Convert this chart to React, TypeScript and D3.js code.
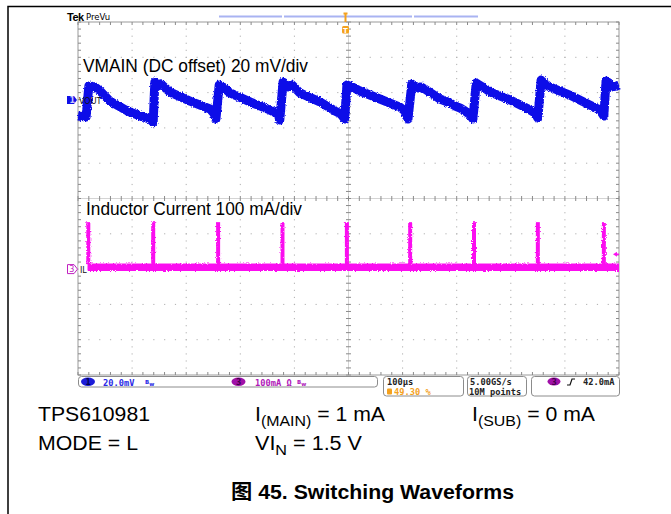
import React, { useEffect, useRef } from 'react';
import * as d3 from 'd3';

// horizontal: 100 us/div, 10 divisions, trigger at centre
const timeTicks = [-500, -400, -300, -200, -100, 0, 100, 200, 300, 400, 500];
const divTicks = [-5, -4, -3, -2, -1, 0, 1, 2, 3, 4, 5];

// CH1 VOUT (AC ripple, 20 mV/div) - corners of the sawtooth
const voutTime = [
  -500, -485, -480, -469, -459, -441, -409, -380, -367, -361,
  -358, -352, -347, -330, -293, -256, -249, -245,
  -239, -234, -219, -182, -145, -130, -127,
  -121, -112, -104, -90, -53, -25, -14, -7,
  -3, 7, 21, 58, 95, 104, 110,
  117, 129, 134, 141, 169, 188, 197, 206, 215, 225, 230,
  236, 245, 262, 299, 336, 345, 350,
  356, 363, 372, 409, 446, 465, 472,
  476, 482, 487, 495, 500,
];
const voutMv = [
  -9.1, -9.6, 7.9, 7.4, 5.1, -0.6, -6.2, -9.6, -10.8, -12.5,
  10.2, 7.9, 9.1, 4.5, -0.6, -5.1, -7.4, -10.8,
  8.5, 7.9, 4.0, -1.1, -5.7, -7.9, -11.3,
  10.2, 7.4, 8.5, 4.0, -1.1, -6.2, -7.9, -10.8,
  8.5, 7.4, 5.1, 0.6, -4.0, -6.2, -10.8,
  9.1, 6.8, 7.4, 6.2, 0.6, -1.7, -3.4, -4.5, -6.2, -8.5, -10.8,
  9.6, 7.9, 4.5, 0, -5.7, -7.4, -10.2,
  11.3, 9.1, 7.4, 2.8, -2.8, -5.7, -9.1,
  10.8, 9.6, 7.4, 7.9, 8.5,
];

// CH3 inductor current (100 mA/div) - switching pulses
const spikeTime = [-481, -361, -241, -122, -3, 114, 232, 350, 472];
const spikePeakMa = [133, 133, 133, 133, 133, 133, 133, 133, 133];
const ilBaseMa = 5;
const ilStart = -484;
const trigLevelMa = 42;

// channel positions (divisions above centre)
const ch1Pos = 2.79;
const ch3Pos = -2.0;
const ch1Scale = 20;
const ch3Scale = 100;

const BLUE = '#0f0fe8';
const PINK = '#fb10f0';
const ORANGE = '#f4a11e';
const GRID = '#b0b0b0';

const App: React.FC = () => {
  const ref = useRef<SVGSVGElement>(null);

  useEffect(() => {
    const svg = d3.select(ref.current);
    svg.selectAll('*').remove();

    const left = 78, right = 619, top = 22, bottom = 375;
    const x = d3.scaleLinear().domain([-500, 500]).range([left, right]);
    const yDiv = d3.scaleLinear().domain([-5, 5]).range([bottom, top]);
    const y1 = (v: number) => yDiv(ch1Pos + v / ch1Scale);
    const y3 = (i: number) => yDiv(ch3Pos + i / ch3Scale);

    const defs = svg.append('defs');
    const f = defs.append('filter').attr('id', 'rough')
      .attr('x', '-5%').attr('y', '-30%').attr('width', '110%').attr('height', '160%');
    f.append('feTurbulence').attr('type', 'fractalNoise').attr('baseFrequency', 0.8)
      .attr('numOctaves', 1).attr('seed', 4).attr('result', 'n');
    f.append('feDisplacementMap').attr('in', 'SourceGraphic').attr('in2', 'n')
      .attr('scale', 3.5).attr('xChannelSelector', 'R').attr('yChannelSelector', 'G');

    // page frame
    svg.append('path').attr('d', 'M8,514 L8,6.5 L671,6.5')
      .attr('fill', 'none').attr('stroke', '#000').attr('stroke-width', 1.5);

    // minor positions
    const minorT = d3.range(-25, 26).map(k => k * 20);
    const minorD = d3.range(-25, 26).map(k => k * 0.2);

    const grid = svg.append('g');
    // dotted vertical gridlines
    timeTicks.filter(t => t !== 0 && Math.abs(t) !== 500).forEach(t => {
      grid.selectAll(null).data(minorD.slice(1, -1)).enter().append('rect')
        .attr('x', x(t) - 0.5).attr('y', d => yDiv(d) - 0.5)
        .attr('width', 1).attr('height', 1.2).attr('fill', GRID);
    });
    // dotted horizontal gridlines
    divTicks.filter(d => d !== 0 && Math.abs(d) !== 5).forEach(d => {
      grid.selectAll(null).data(minorT.slice(1, -1)).enter().append('rect')
        .attr('x', t => x(t) - 0.5).attr('y', yDiv(d) - 0.5)
        .attr('width', 1.2).attr('height', 1).attr('fill', GRID);
    });
    // centre crosshair
    grid.append('line').attr('x1', x(0)).attr('x2', x(0)).attr('y1', top).attr('y2', bottom)
      .attr('stroke', '#d4d4d4').attr('stroke-width', 1);
    grid.append('line').attr('x1', left).attr('x2', right).attr('y1', yDiv(0)).attr('y2', yDiv(0))
      .attr('stroke', '#d4d4d4').attr('stroke-width', 1);
    grid.selectAll(null).data(minorD).enter().append('line')
      .attr('x1', x(0) - 2.5).attr('x2', x(0) + 2.5)
      .attr('y1', d => yDiv(d)).attr('y2', d => yDiv(d))
      .attr('stroke', '#8a8a8a').attr('stroke-width', 1);
    grid.selectAll(null).data(minorT).enter().append('line')
      .attr('y1', yDiv(0) - 2.5).attr('y2', yDiv(0) + 2.5)
      .attr('x1', t => x(t)).attr('x2', t => x(t))
      .attr('stroke', '#8a8a8a').attr('stroke-width', 1);
    // border with inward ticks
    grid.append('rect').attr('x', left).attr('y', top)
      .attr('width', right - left).attr('height', bottom - top)
      .attr('fill', 'none').attr('stroke', '#9a9a9a').attr('stroke-width', 1);
    [left, right].forEach((ex, k) => {
      grid.selectAll(null).data(minorD).enter().append('line')
        .attr('x1', ex).attr('x2', ex + (k === 0 ? 3 : -3))
        .attr('y1', d => yDiv(d)).attr('y2', d => yDiv(d))
        .attr('stroke', '#8a8a8a');
    });
    [top, bottom].forEach((ey, k) => {
      grid.selectAll(null).data(minorT).enter().append('line')
        .attr('y1', ey).attr('y2', ey + (k === 0 ? 3 : -3))
        .attr('x1', t => x(t)).attr('x2', t => x(t))
        .attr('stroke', '#8a8a8a');
    });

    // channel captions
    svg.append('text').attr('x', 83).attr('y', 72)
      .style('font-family', 'Liberation Sans, Arial, sans-serif').style('font-size', '19px')
      .attr('textLength', 225).attr('lengthAdjust', 'spacingAndGlyphs')
      .text('VMAIN (DC offset) 20 mV/div');
    svg.append('text').attr('x', 86).attr('y', 214.5)
      .style('font-family', 'Liberation Sans, Arial, sans-serif').style('font-size', '19px')
      .attr('textLength', 216).attr('lengthAdjust', 'spacingAndGlyphs')
      .text('Inductor Current 100 mA/div');

    // CH3 trace
    const il = svg.append('g').attr('filter', 'url(#rough)');
    il.append('line').attr('x1', x(ilStart)).attr('x2', x(500))
      .attr('y1', y3(ilBaseMa)).attr('y2', y3(ilBaseMa))
      .attr('stroke', PINK).attr('stroke-width', 7.5);
    il.selectAll(null).data(spikeTime).enter().append('line')
      .attr('x1', d => x(d)).attr('x2', d => x(d))
      .attr('y1', y3(ilBaseMa) + 3).attr('y2', (_, i) => y3(spikePeakMa[i]))
      .attr('stroke', PINK).attr('stroke-width', 4);

    // CH1 trace
    const line = d3.line<number>()
      .x((_, i) => x(voutTime[i]))
      .y(d => y1(d));
    svg.append('path').datum(voutMv).attr('d', line)
      .attr('fill', 'none').attr('stroke', BLUE).attr('stroke-width', 9)
      .attr('stroke-linejoin', 'round').attr('filter', 'url(#rough)');

    // channel ground markers
    const m1 = y1(0);
    svg.append('path')
      .attr('d', `M67,${m1 - 4} L74,${m1 - 4} L77,${m1} L74,${m1 + 4} L67,${m1 + 4} Z`)
      .attr('fill', BLUE);
    svg.append('text').attr('x', 69.5).attr('y', m1 + 3).text('1')
      .style('font-family', 'DejaVu Sans, sans-serif').style('font-size', '8px')
      .style('font-weight', 'bold').attr('fill', '#c8c8ff');
    svg.append('text').attr('x', 79).attr('y', m1 + 3.5).text('VOUT')
      .style('font-family', 'DejaVu Sans, sans-serif').style('font-size', '8px').attr('fill', '#111');
    const m3 = y3(0);
    svg.append('rect').attr('x', 78.5).attr('y', m3 - 5).attr('width', 9).attr('height', 9).attr('fill', '#fff');
    svg.append('path')
      .attr('d', `M67.5,${m3 - 4.5} L74,${m3 - 4.5} L77.5,${m3} L74,${m3 + 4.5} L67.5,${m3 + 4.5} Z`)
      .attr('fill', '#fff').attr('stroke', '#c020c0').attr('stroke-width', 1);
    svg.append('text').attr('x', 69.2).attr('y', m3 + 3).text('3')
      .style('font-family', 'DejaVu Sans, sans-serif').style('font-size', '8px').attr('fill', '#c020c0');
    svg.append('text').attr('x', 80).attr('y', m3 + 3.5).text('IL')
      .style('font-family', 'DejaVu Sans, sans-serif').style('font-size', '8px').attr('fill', '#111');

    // trigger level marker
    const tl = y3(trigLevelMa);
    svg.append('path').attr('d', `M613,${tl} L617,${tl - 2.5} L617,${tl + 2.5} Z`).attr('fill', PINK);
    svg.append('line').attr('x1', 616).attr('x2', 619).attr('y1', tl).attr('y2', tl)
      .attr('stroke', PINK).attr('stroke-width', 1.5);

    // header
    svg.append('text').attr('x', 67).attr('y', 21).text('Tek')
      .style('font-family', 'Liberation Sans, Arial, sans-serif').style('font-size', '11px')
      .style('font-weight', 'bold').style('letter-spacing', '-0.5px');
    svg.append('text').attr('x', 86).attr('y', 20).text('PreVu')
      .style('font-family', 'DejaVu Sans, sans-serif').style('font-size', '8.5px');
    [[219, 282], [284, 412], [414, 478]].forEach(([a, b]) => {
      svg.append('rect').attr('x', a).attr('y', 15.5).attr('width', b - a).attr('height', 2)
        .attr('fill', '#a9b3f2');
    });
    // trigger position marker
    const tx = x(0) - 3;
    svg.append('path').attr('d', `M${tx},13 L${tx},22 M${tx - 2},13.5 L${tx + 2},13.5`)
      .attr('stroke', ORANGE).attr('stroke-width', 2).attr('fill', 'none');
    svg.append('rect').attr('x', tx - 3.5).attr('y', 26).attr('width', 7).attr('height', 7.5)
      .attr('rx', 1.5).attr('fill', ORANGE);
    svg.append('text').attr('x', tx).attr('y', 32.5).attr('text-anchor', 'middle').text('T')
      .style('font-family', 'DejaVu Sans, sans-serif').style('font-size', '7px')
      .style('font-weight', 'bold').attr('fill', '#fff');

    // status bar
    const mono = (s: any) => s.style('font-family', 'DejaVu Sans Mono, monospace')
      .style('font-size', '8.7px').style('font-weight', 'bold');
    const box = (bx: number, bw: number, bh: number) =>
      svg.append('rect').attr('x', bx + 0.5).attr('y', 376.5).attr('width', bw).attr('height', bh)
        .attr('rx', 3).attr('fill', '#fff').attr('stroke', '#8c8c8c').attr('stroke-width', 1);
    box(78, 299, 10.5);
    box(383, 80, 19.5);
    box(467, 59, 19.5);
    box(531, 88, 19.5);

    svg.append('ellipse').attr('cx', 88).attr('cy', 381.8).attr('rx', 7).attr('ry', 4.2).attr('fill', '#1c1cd8');
    mono(svg.append('text').attr('x', 88).attr('y', 385).attr('text-anchor', 'middle').text('1').attr('fill', '#000050'));
    mono(svg.append('text').attr('x', 103).attr('y', 385.5).text('20.0mV').attr('fill', '#2a2ae6'));
    const bw1 = svg.append('text').attr('x', 145).attr('y', 384).attr('fill', '#2a2ae6')
      .style('font-family', 'DejaVu Sans, sans-serif').style('font-size', '5.5px').style('font-weight', 'bold');
    bw1.append('tspan').text('B');
    bw1.append('tspan').attr('dy', 2).text('w');

    svg.append('ellipse').attr('cx', 238.5).attr('cy', 381.8).attr('rx', 7).attr('ry', 4.2).attr('fill', '#a010a8');
    mono(svg.append('text').attr('x', 238.5).attr('y', 385).attr('text-anchor', 'middle').text('3').attr('fill', '#40004a'));
    mono(svg.append('text').attr('x', 255).attr('y', 385.5).text('100mA Ω').attr('fill', '#b018b8'));
    const bw3 = svg.append('text').attr('x', 297).attr('y', 384).attr('fill', '#b018b8')
      .style('font-family', 'DejaVu Sans, sans-serif').style('font-size', '5.5px').style('font-weight', 'bold');
    bw3.append('tspan').text('B');
    bw3.append('tspan').attr('dy', 2).text('w');

    mono(svg.append('text').attr('x', 387).attr('y', 385).text('100µs').attr('fill', '#222'));
    svg.append('rect').attr('x', 387).attr('y', 388.5).attr('width', 5).attr('height', 6).attr('rx', 1).attr('fill', ORANGE);
    mono(svg.append('text').attr('x', 394).attr('y', 394.5).text('49.30 %').attr('fill', ORANGE));
    mono(svg.append('text').attr('x', 470).attr('y', 385).text('5.00GS/s').attr('fill', '#222'));
    mono(svg.append('text').attr('x', 469).attr('y', 394.5).text('10M points').attr('fill', '#222'));

    svg.append('ellipse').attr('cx', 554).attr('cy', 381.5).attr('rx', 6.5).attr('ry', 4).attr('fill', '#a010a8');
    mono(svg.append('text').attr('x', 554).attr('y', 384.5).attr('text-anchor', 'middle').text('3').attr('fill', '#40004a'));
    svg.append('path').attr('d', 'M567,385 L570,385 L572,379 L575,379')
      .attr('fill', 'none').attr('stroke', '#111').attr('stroke-width', 1.2);
    mono(svg.append('text').attr('x', 583).attr('y', 385).text('42.0mA').attr('fill', '#222'));

    // caption lines below the screenshot
    const sans = (s: any, w: number) => s.style('font-family', 'Liberation Sans, Arial, sans-serif')
      .style('font-size', '20px').attr('fill', '#000')
      .attr('textLength', w).attr('lengthAdjust', 'spacingAndGlyphs');
    sans(svg.append('text').attr('x', 38).attr('y', 421).text('TPS610981'), 112);
    sans(svg.append('text').attr('x', 38).attr('y', 450).text('MODE = L'), 100);

    const iMain = sans(svg.append('text').attr('x', 255).attr('y', 421), 130);
    iMain.append('tspan').text('I');
    iMain.append('tspan').attr('dy', 5).style('font-size', '15px').text('(MAIN)');
    iMain.append('tspan').attr('dy', -5).text(' = 1 mA');

    const iSub = sans(svg.append('text').attr('x', 472).attr('y', 421), 123);
    iSub.append('tspan').text('I');
    iSub.append('tspan').attr('dy', 5).style('font-size', '15px').text('(SUB)');
    iSub.append('tspan').attr('dy', -5).text(' = 0 mA');

    const vin = sans(svg.append('text').attr('x', 255).attr('y', 450), 107);
    vin.append('tspan').text('VI');
    vin.append('tspan').attr('dy', 5).style('font-size', '15px').text('N');
    vin.append('tspan').attr('dy', -5).text(' = 1.5 V');

    const title = svg.append('text').attr('x', 231).attr('y', 499)
      .style('font-family', 'Liberation Sans, Arial, sans-serif')
      .style('font-size', '20px').style('font-weight', 'bold')
      .attr('textLength', 283).attr('lengthAdjust', 'spacingAndGlyphs');
    title.append('tspan').style('font-family', 'Noto Sans CJK SC, sans-serif').text('图');
    title.append('tspan').text(' 45. Switching Waveforms');
  }, []);

  return (
    <div style={{ position: 'absolute', left: 0, top: 0 }}>
      <svg ref={ref} width={671} height={514} style={{ display: 'block', background: '#fff' }} />
    </div>
  );
};

export default App;
